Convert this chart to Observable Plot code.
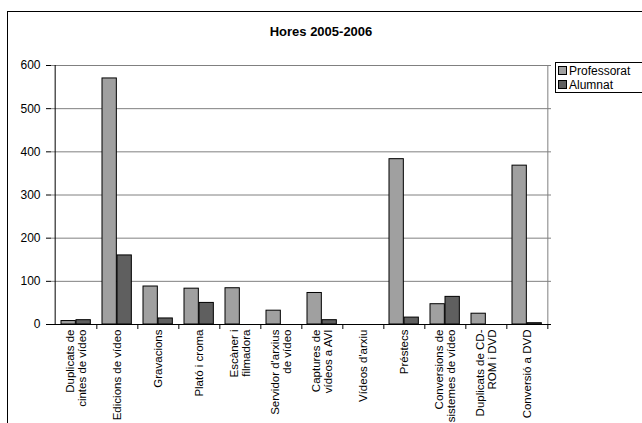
<!DOCTYPE html>
<html>
<head>
<meta charset="utf-8">
<script src="https://cdn.jsdelivr.net/npm/d3@7"></script>
<script src="https://cdn.jsdelivr.net/npm/@observablehq/plot@0.6"></script>
<style>
  html, body { margin: 0; padding: 0; background: #fff; overflow: hidden; }
  #wrap { position: relative; width: 642px; height: 423px; font-family: "Liberation Sans", Arial, sans-serif; }
  #frame { position: absolute; left: 7px; top: 11px; width: 700px; height: 500px; border-left: 1px solid #000; border-top: 1px solid #000; }
  #title { position: absolute; left: 0; width: 642px; top: 24px; text-align: center; font-weight: bold; font-size: 13px; color: #000; }
  #legend { position: absolute; left: 555px; top: 62px; width: 120px; height: 29px; border: 1px solid #000; background: #fff; font-size: 12px; }
  .li { position: absolute; left: 2px; height: 14px; line-height: 14px; white-space: nowrap; }
  .sw { display: inline-block; width: 7px; height: 7px; border: 1px solid #000; margin-right: 2px; vertical-align: 0px; }
  #chart { position: absolute; left: 0; top: 0; }
</style>
</head>
<body>
<div id="wrap">
  <div id="chart"></div>
  <div id="frame"></div>
  <div id="title"></div>
  <div id="legend"></div>
</div>
<script>
const title = "Hores 2005-2006";
const categories = [
  "Duplicats de\ncintes de vídeo",
  "Edicions de vídeo",
  "Gravacions",
  "Plató i croma",
  "Escàner i\nfilmadora",
  "Servidor d'arxius\nde vídeo",
  "Captures de\nvídeos a AVI",
  "Vídeos d'arxiu",
  "Préstecs",
  "Conversions de\nsistemes de vídeo",
  "Duplicats de CD-\nROM i DVD",
  "Conversió a DVD"
];
const professorat = [8, 570, 88, 83, 84, 32, 73, 0, 383, 47, 25, 368];
const alumnat = [10, 160, 14, 50, 0, 0, 10, 0, 16, 64, 0, 3];
const seriesNames = ["Professorat", "Alumnat"];
const seriesColors = ["#a0a0a0", "#5f5f5f"];
const yTicks = [0, 100, 200, 300, 400, 500, 600];

const W = 642, H = 423;
const mL = 51, mR = 91, mT = 65, mB = 99;
const bw = (W - mL - mR) / categories.length;
const barW = 15;
const gapL = 6;

const rowsP = categories.map((c, i) => ({cat: c, v: professorat[i]}));
const rowsA = categories.map((c, i) => ({cat: c, v: alumnat[i]}));

const plot = Plot.plot({
  width: W, height: H,
  marginLeft: mL, marginRight: mR, marginTop: mT, marginBottom: mB,
  style: {fontFamily: '"Liberation Sans", Arial, sans-serif', fontSize: "12px", color: "#000", background: "transparent"},
  x: {type: "band", domain: categories, padding: 0, label: null},
  y: {domain: [yTicks[0], yTicks[yTicks.length - 1]], label: null},
  marks: [
    Plot.ruleY(yTicks.slice(1), {stroke: "#808080", strokeWidth: 1}),
    Plot.ruleX([categories[categories.length - 1]], {x: d => d, dx: bw / 2, stroke: "#808080"}),
    Plot.barY(rowsP, {x: "cat", y: "v", fill: seriesColors[0], stroke: "#000", strokeWidth: 1,
      insetLeft: gapL, insetRight: bw - gapL - barW}),
    Plot.barY(rowsA, {x: "cat", y: "v", fill: seriesColors[1], stroke: "#000", strokeWidth: 1,
      insetLeft: gapL + barW, insetRight: bw - gapL - 2 * barW}),
    Plot.ruleY([yTicks[0]], {stroke: "#000"}),
    Plot.ruleX([categories[0]], {x: d => d, dx: -bw / 2, stroke: "#000"}),
    Plot.ruleX(categories, {x: d => d, dx: bw / 2, y1: yTicks[0], y2: yTicks[0], insetBottom: -5, stroke: "#000"}),
    Plot.axisY({ticks: yTicks, tickSize: 5, tickPadding: 6, label: null, tickFormat: d => String(d)}),
    Plot.axisX({tickSize: 0, tickPadding: 5, tickRotate: -90, label: null, lineHeight: 1.05})
  ]
});
d3.select(plot).selectAll("text").each(function() {
  const t = this.getAttribute("transform") || "";
  const pt = this.parentNode && this.parentNode.getAttribute && (this.parentNode.getAttribute("transform") || "");
  const rotated = /rotate/.test(t) || /rotate/.test(pt);
  const fs = rotated ? "11.5px" : "12px";
  this.setAttribute("font-size", fs);
  this.style.fontSize = fs;
  this.style.fontFamily = '"Liberation Sans", Arial, sans-serif';
});
document.getElementById("chart").appendChild(plot);
document.getElementById("title").textContent = title;
const lg = document.getElementById("legend");
seriesNames.forEach((n, i) => {
  const d = document.createElement("div");
  d.className = "li";
  d.style.top = (1 + i * 14) + "px";
  const s = document.createElement("span");
  s.className = "sw";
  s.style.background = seriesColors[i];
  d.appendChild(s);
  d.appendChild(document.createTextNode(n));
  lg.appendChild(d);
});
</script>
</body>
</html>
